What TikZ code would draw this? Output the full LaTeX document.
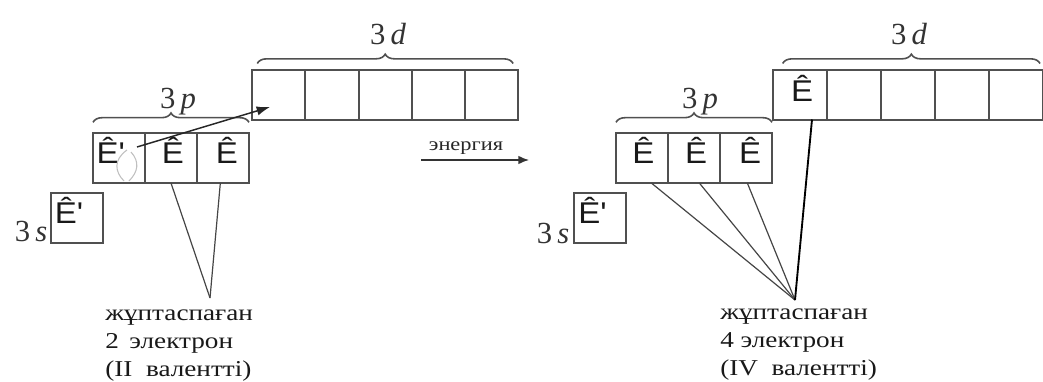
\documentclass[tikz,border=0pt]{standalone}
\usepackage{fontspec}
\setmainfont{Liberation Serif}
\newfontfamily\elfont[FakeStretch=1.1]{Liberation Sans}
\newfontfamily\lblfont[FakeStretch=1.2]{Liberation Serif}
\usetikzlibrary{decorations.pathreplacing,arrows.meta}
\definecolor{boxgray}{HTML}{505050}
\definecolor{linegray}{HTML}{454545}
\tikzset{
  orb/.style={draw=boxgray, line width=1.5pt, minimum width=39pt, minimum height=37.5pt, inner sep=0pt, outer sep=0pt},
  dorb/.style={orb, minimum width=40pt},
  el/.style={font=\elfont\fontsize{22.5pt}{22pt}\selectfont, inner sep=0pt, text=black!90},
  sub/.style={font=\fontsize{23pt}{23pt}\selectfont, inner sep=0pt, text=black!80},
  brc/.style={draw=boxgray, line width=1.2pt, decorate, decoration={brace, amplitude=7pt}},
  conn/.style={draw=linegray, line width=0.9pt},
  lbl/.style={font=\lblfont\fontsize{17pt}{21pt}\selectfont, align=left, inner sep=0pt, text=black!90},
}
\begin{document}
\begin{tikzpicture}[x=0.75pt,y=-0.75pt]
\useasboundingbox (0,0) rectangle (1043,382);
% ---------- left diagram ----------
\node[orb] (ls) at (76.5,217.5) {};
\node[orb] (lp1) at (119,158) {};
\node[orb] (lp2) at (171,158) {};
\node[orb] (lp3) at (223,158) {};
\node[dorb] (ld1) at (278.6,94.5) {};
\node[dorb] (ld2) at (331.9,94.5) {};
\node[dorb] (ld3) at (385.2,94.5) {};
\node[dorb] (ld4) at (438.5,94.5) {};
\node[dorb] (ld5) at (491.8,94.5) {};
% electrons
\node[el, anchor=base west] (lse) at ([xshift=3pt,yshift=-23pt]ls.north west) {Ê'};
\node[el, anchor=base west] (lp1e) at ([xshift=2.5pt,yshift=-22.5pt]lp1.north west) {Ê'};
\node[el, anchor=base] (lp2e) at ([xshift=1.5pt,yshift=-22.5pt]lp2.north) {Ê};
\node[el, anchor=base] (lp3e) at ([xshift=3pt,yshift=-22.5pt]lp3.north) {Ê};
% faint curve in first p box
\draw[black!25, line width=0.8pt] (127,150) .. controls (113,160) and (115,172) .. (124,181);
\draw[black!25, line width=0.8pt] (131,152) .. controls (140,162) and (138,172) .. (129,181);
% braces and labels
\draw[brc] ([yshift=8pt]lp1.north west) -- ([yshift=8pt]lp3.north east);
\draw[brc] ([xshift=4pt,yshift=4.5pt]ld1.north west) -- ([xshift=-4pt,yshift=4.5pt]ld5.north east);
\node[sub, anchor=base] (l3p) at (178,108) {3\,\textit{p}};
\node[sub, anchor=base] (l3d) at (388,45) {3\,\textit{d}};
\node[sub, anchor=base] (l3s) at (31,241) {3\,\textit{s}};
% excitation arrow
\coordinate (arrS) at (137,147);
\coordinate (arrE) at (270,107);
\draw[line width=1.1pt, black!85, -{Latex[length=10pt,width=7pt]}] (arrS) -- (arrE);
% energy arrow
\coordinate (en1) at (421,160);
\coordinate (en2) at (529,160);
\draw[line width=1.1pt, black!80, -{Latex[length=8pt,width=6.5pt]}] (en1) -- (en2);
\node[font=\lblfont\fontsize{14pt}{14pt}\selectfont, inner sep=0pt, anchor=base, text=black!85] (energy) at (466,150) {энергия};
% unpaired label
\node[lbl, anchor=base west] (lab1) at (105,376) {жұптаспаған\\2~\,электрон\\(II~~валентті)};
\coordinate (tip1) at (210,298);
\draw[conn] (lp2.south) -- (tip1);
\draw[conn] ([xshift=-2pt]lp3.south) -- (tip1);
% ---------- right diagram ----------
\node[orb] (rs) at (600,217.5) {};
\node[orb] (rp1) at (642,158) {};
\node[orb] (rp2) at (694,158) {};
\node[orb] (rp3) at (746,158) {};
\node[dorb] (rd1) at (800,94.5) {};
\node[dorb] (rd2) at (854,94.5) {};
\node[dorb] (rd3) at (908,94.5) {};
\node[dorb] (rd4) at (962,94.5) {};
\node[dorb] (rd5) at (1016,94.5) {};
\node[el, anchor=base west] (rse) at ([xshift=3pt,yshift=-23pt]rs.north west) {Ê'};
\node[el, anchor=base] (rp1e) at ([xshift=1pt,yshift=-22.5pt]rp1.north) {Ê};
\node[el, anchor=base] (rp2e) at ([xshift=1.5pt,yshift=-22.5pt]rp2.north) {Ê};
\node[el, anchor=base] (rp3e) at ([xshift=3pt,yshift=-22.5pt]rp3.north) {Ê};
\node[el, anchor=base] (rd1e) at ([xshift=1.5pt,yshift=-24pt]rd1.north) {Ê};
\draw[brc] ([yshift=8pt]rp1.north west) -- ([yshift=8pt]rp3.north east);
\draw[brc] ([xshift=7pt,yshift=4.5pt]rd1.north west) -- ([xshift=-2pt,yshift=4.5pt]rd5.north east);
\node[sub, anchor=base] (r3p) at (700,108) {3\,\textit{p}};
\node[sub, anchor=base] (r3d) at (909,45) {3\,\textit{d}};
\node[sub, anchor=base] (r3s) at (553,243) {3\,\textit{s}};
\node[lbl, anchor=base west] (lab2) at (720,375) {жұптаспаған\\4~электрон\\(IV~~валентті)};
\coordinate (tip2) at (795,300);
\draw[conn] ([xshift=7pt]rp1.south) -- (tip2);
\draw[conn] ([xshift=4pt]rp2.south) -- (tip2);
\draw[conn] ([xshift=1pt]rp3.south) -- (tip2);
\draw[conn, black, line width=1.4pt] ([xshift=9pt]rd1.south) -- (tip2);
\end{tikzpicture}
\end{document}
